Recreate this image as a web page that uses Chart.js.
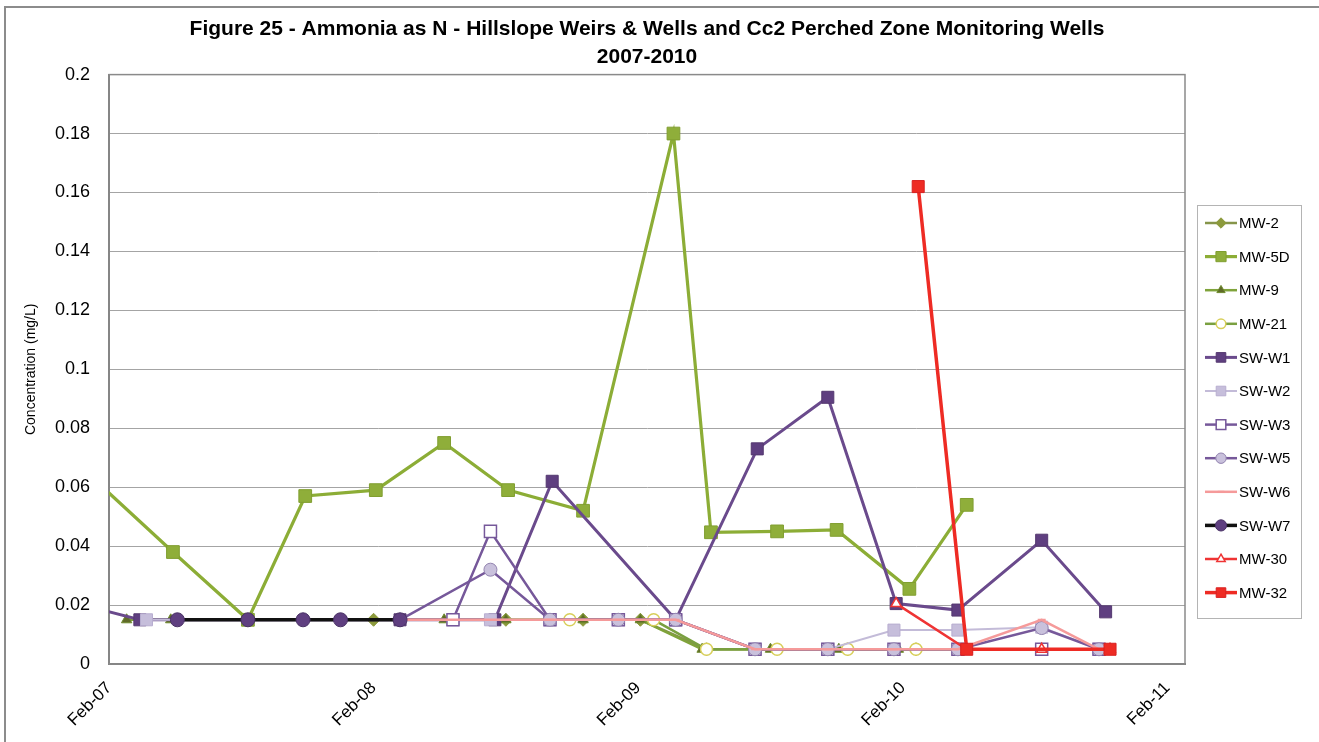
<!DOCTYPE html>
<html>
<head>
<meta charset="utf-8">
<title>Figure 25 - Ammonia as N</title>
<script src="https://cdn.jsdelivr.net/npm/chart.js@4.4.1/dist/chart.umd.min.js"></script>
<style>
  html, body { margin: 0; padding: 0; background: #fff; }
  canvas { display: block; }
</style>
</head>
<body>
<canvas id="ammoniaChart" width="1319" height="742"></canvas>
<script>
// x-axis labels, one per February
const tickLabels = ['Feb-07', 'Feb-08', 'Feb-09', 'Feb-10', 'Feb-11'];

// Sample dates and ammonia concentrations (mg/L)
const mw2Dates = ['2007-08-10', '2008-02-01', '2008-08-01', '2008-11-16', '2009-02-04', '2009-05-04', '2009-11-16', '2010-02-19', '2010-08-10'];
const mw2Values = [0.015, 0.015, 0.015, 0.015, 0.015, 0.005, 0.005, 0.005, 0.005];

const mw5dDates = ['2007-01-18', '2007-04-28', '2007-08-10', '2007-10-28', '2008-02-04', '2008-05-07', '2008-08-04', '2008-11-16', '2009-03-19', '2009-05-10', '2009-08-10', '2009-11-01', '2010-02-10', '2010-04-28'];
const mw5dValues = [0.061, 0.038, 0.015, 0.057, 0.059, 0.075, 0.059, 0.052, 0.180, 0.0447, 0.045, 0.0455, 0.0255, 0.054];

const mw9Dates = ['2007-02-25', '2007-04-25', '2008-05-07', '2008-08-01', '2008-11-16', '2009-02-04', '2009-04-28', '2009-08-01', '2009-11-04', '2010-01-25', '2010-08-10'];
const mw9Values = [0.015, 0.015, 0.015, 0.015, 0.015, 0.015, 0.005, 0.005, 0.005, 0.005, 0.005];

const mw21Dates = ['2008-10-28', '2009-02-22', '2009-05-04', '2009-08-10', '2009-11-16', '2010-02-19'];
const mw21Values = [0.015, 0.015, 0.005, 0.005, 0.005, 0.005];

const swW1Dates = ['2007-01-12', '2007-03-13', '2008-03-07', '2008-07-16', '2008-10-04', '2009-03-22', '2009-07-13', '2009-10-19', '2010-01-22', '2010-04-16', '2010-08-10', '2010-11-07'];
const swW1Values = [0.019, 0.015, 0.015, 0.015, 0.062, 0.015, 0.073, 0.0905, 0.0205, 0.0183, 0.042, 0.0177];

const swW2Dates = ['2007-03-22', '2008-05-19', '2008-07-10', '2008-10-01', '2009-01-04', '2009-03-22', '2009-07-10', '2009-10-19', '2010-01-19', '2010-04-16', '2010-08-10', '2010-10-28'];
const swW2Values = [0.015, 0.015, 0.015, 0.015, 0.015, 0.015, 0.005, 0.005, 0.0115, 0.0115, 0.0125, 0.005];

const swW3Dates = ['2008-05-19', '2008-07-10', '2008-10-01', '2009-01-04', '2009-03-22', '2009-07-10', '2009-10-19', '2010-01-19', '2010-04-16', '2010-08-10', '2010-10-28'];
const swW3Values = [0.015, 0.045, 0.015, 0.015, 0.015, 0.005, 0.005, 0.005, 0.005, 0.005, 0.005];

const swW5Dates = ['2008-03-07', '2008-07-10', '2008-10-01', '2009-01-04', '2009-03-22', '2009-07-10', '2009-10-19', '2010-01-19', '2010-04-16', '2010-08-10', '2010-10-28'];
const swW5Values = [0.015, 0.032, 0.015, 0.015, 0.015, 0.005, 0.005, 0.005, 0.005, 0.0122, 0.005];

const swW6Dates = ['2008-03-07', '2008-10-01', '2009-01-04', '2009-03-22', '2009-07-10', '2009-10-19', '2010-01-19', '2010-04-16', '2010-08-10', '2010-10-28'];
const swW6Values = [0.015, 0.015, 0.015, 0.015, 0.005, 0.005, 0.005, 0.005, 0.015, 0.005];

const swW7Dates = ['2007-05-04', '2007-08-10', '2007-10-25', '2007-12-16', '2008-03-07'];
const swW7Values = [0.015, 0.015, 0.015, 0.015, 0.015];

const mw30Dates = ['2010-01-22', '2010-04-28', '2010-08-10', '2010-11-13'];
const mw30Values = [0.0205, 0.005, 0.005, 0.005];

const mw32Dates = ['2010-02-22', '2010-04-28', '2010-11-13'];
const mw32Values = [0.162, 0.005, 0.005];

const FONT = '"Liberation Sans", Arial, sans-serif';

// months since Feb 2007
function monthIndex(d) {
    const [y, m, day] = d.split('-').map(Number);
    return (y - 2007) * 12 + (m - 2) + (day - 1) / 30;
}

function points(dates, values) {
    return dates.map((d, i) => ({ x: monthIndex(d), y: values[i] }));
}

function series(label, dates, values, style) {
    return Object.assign({
        label: label,
        data: points(dates, values),
        fill: false,
        tension: 0,
        pointBorderWidth: 1
    }, style);
}

const datasets = [
    series('MW-2', mw2Dates, mw2Values, { borderColor: '#86954a', borderWidth: 2.5, pointStyle: 'rectRot', pointRadius: 6.5, pointBackgroundColor: '#8c9a3c', pointBorderColor: '#8c9a3c' }),
    series('MW-5D', mw5dDates, mw5dValues, { borderColor: '#8cad36', borderWidth: 3.2, pointStyle: 'rect', pointRadius: 9, pointBackgroundColor: '#8fae3a', pointBorderColor: '#809e30' }),
    series('MW-9', mw9Dates, mw9Values, { borderColor: '#7fa33a', borderWidth: 2.5, pointStyle: 'triangle', pointRadius: 6, pointBackgroundColor: '#5f6a28', pointBorderColor: '#6f8a2e' }),
    series('MW-21', mw21Dates, mw21Values, { borderColor: '#7aa040', borderWidth: 2.5, pointStyle: 'circle', pointRadius: 6, pointBackgroundColor: '#ffffff', pointBorderColor: '#d8cf5a', pointBorderWidth: 1.5 }),
    series('SW-W1', swW1Dates, swW1Values, { borderColor: '#6a4a8c', borderWidth: 3, pointStyle: 'rect', pointRadius: 8.5, pointBackgroundColor: '#5f3f80', pointBorderColor: '#54386f' }),
    series('SW-W2', swW2Dates, swW2Values, { borderColor: '#c3bbd8', borderWidth: 2, pointStyle: 'rect', pointRadius: 8.5, pointBackgroundColor: '#c6bedb', pointBorderColor: '#b8aed0' }),
    series('SW-W3', swW3Dates, swW3Values, { borderColor: '#76589a', borderWidth: 2.5, pointStyle: 'rect', pointRadius: 8.5, pointBackgroundColor: '#ffffff', pointBorderColor: '#76589a', pointBorderWidth: 1.5 }),
    series('SW-W5', swW5Dates, swW5Values, { borderColor: '#76589a', borderWidth: 2.5, pointStyle: 'circle', pointRadius: 6.5, pointBackgroundColor: '#c9c1dc', pointBorderColor: '#9384b0' }),
    series('SW-W6', swW6Dates, swW6Values, { borderColor: '#f59a9a', borderWidth: 2.5, pointStyle: 'line', pointRadius: 4, pointBackgroundColor: '#f59a9a', pointBorderColor: '#f59a9a', pointBorderWidth: 2 }),
    series('SW-W7', swW7Dates, swW7Values, { borderColor: '#111111', borderWidth: 3.5, pointStyle: 'circle', pointRadius: 7, pointBackgroundColor: '#5f3f80', pointBorderColor: '#4a3266' }),
    series('MW-30', mw30Dates, mw30Values, { borderColor: '#ef3434', borderWidth: 2.5, pointStyle: 'triangle', pointRadius: 6, pointBackgroundColor: '#ffffff', pointBorderColor: '#ef3434', pointBorderWidth: 1.5 }),
    series('MW-32', mw32Dates, mw32Values, { borderColor: '#ee2b24', borderWidth: 3.5, pointStyle: 'rect', pointRadius: 8.5, pointBackgroundColor: '#ee2b24', pointBorderColor: '#d82020' })
];
// Excel paints later series on top
datasets.forEach((ds, i) => { ds.order = datasets.length - i; });

// white page, outer frame and plot-area box
const frame = {
    id: 'frame',
    beforeDraw(chart) {
        const ctx = chart.ctx;
        ctx.save();
        ctx.fillStyle = '#fff';
        ctx.fillRect(0, 0, chart.width, chart.height);
        ctx.strokeStyle = '#8c8c8c';
        ctx.lineWidth = 2;
        ctx.beginPath();
        ctx.moveTo(5, chart.height);
        ctx.lineTo(5, 7);
        ctx.lineTo(chart.width, 7);
        ctx.stroke();
        ctx.restore();
    },
    beforeDatasetsDraw(chart) {
        const a = chart.chartArea;
        const ctx = chart.ctx;
        ctx.save();
        ctx.strokeStyle = '#8a8a8a';
        ctx.lineWidth = 1.5;
        ctx.strokeRect(a.left, a.top, a.right - a.left, a.bottom - a.top);
        ctx.restore();
    }
};

// Excel-style legend: line sample with marker, boxed, at the right
const excelLegend = {
    id: 'excelLegend',
    afterDraw(chart) {
        const ctx = chart.ctx;
        ctx.save();
        ctx.strokeStyle = '#b4b4b4';
        ctx.lineWidth = 1;
        ctx.strokeRect(1197.5, 205.5, 104, 413);
        chart.data.datasets.forEach((ds, i) => {
            const y = 223 + i * 33.6;
            ctx.strokeStyle = ds.borderColor;
            ctx.lineWidth = ds.borderWidth;
            ctx.beginPath();
            ctx.moveTo(1205, y);
            ctx.lineTo(1237, y);
            ctx.stroke();
            ctx.fillStyle = ds.pointBackgroundColor;
            ctx.strokeStyle = ds.pointBorderColor;
            ctx.lineWidth = ds.pointBorderWidth;
            Chart.helpers.drawPoint(ctx, {
                pointStyle: ds.pointStyle,
                radius: ds.pointRadius * 0.8,
                rotation: 0,
                borderWidth: ds.pointBorderWidth
            }, 1221, y);
            ctx.fillStyle = '#000';
            ctx.font = '15px ' + FONT;
            ctx.textAlign = 'left';
            ctx.textBaseline = 'middle';
            ctx.fillText(ds.label, 1239, y + 1);
        });
        ctx.restore();
    }
};

new Chart(document.getElementById('ammoniaChart').getContext('2d'), {
    type: 'line',
    data: { datasets: datasets },
    plugins: [frame, excelLegend],
    options: {
        responsive: false,
        animation: false,
        layout: { padding: { left: 0, right: 134, top: 0, bottom: 0 } },
        plugins: {
            legend: { display: false },
            tooltip: { enabled: false },
            title: {
                display: true,
                fullSize: false,
                text: ['Figure 25 - Ammonia as N - Hillslope Weirs & Wells and Cc2 Perched Zone Monitoring Wells', '2007-2010'],
                color: '#000',
                font: { family: FONT, size: 21, weight: 'bold', lineHeight: 1.3 },
                padding: { top: 16, bottom: 4 }
            }
        },
        scales: {
            x: {
                type: 'linear',
                min: 0,
                max: 48.8,
                afterBuildTicks: axis => { axis.ticks = tickLabels.map((_, i) => ({ value: i * 12 })); },
                afterFit: axis => { axis.height = 78; },
                grid: { display: false },
                border: { display: true, color: '#7a7a7a', width: 2 },
                ticks: {
                    autoSkip: false,
                    minRotation: 45,
                    maxRotation: 45,
                    padding: 6,
                    color: '#000',
                    font: { family: FONT, size: 17 },
                    callback: v => tickLabels[Math.round(v / 12)]
                }
            },
            y: {
                min: 0,
                max: 0.2,
                afterFit: axis => { axis.width = 109; },
                grid: { color: '#a4a4a4', lineWidth: 1, drawTicks: false },
                border: { display: true, color: '#7a7a7a', width: 2 },
                ticks: {
                    stepSize: 0.02,
                    padding: 19,
                    color: '#000',
                    font: { family: FONT, size: 18 },
                    callback: v => String(Math.round(v * 100) / 100)
                },
                title: {
                    display: true,
                    text: 'Concentration (mg/L)',
                    color: '#000',
                    font: { family: FONT, size: 14 },
                    padding: { top: 23, bottom: 0 }
                }
            }
        }
    }
});
</script>
</body>
</html>
